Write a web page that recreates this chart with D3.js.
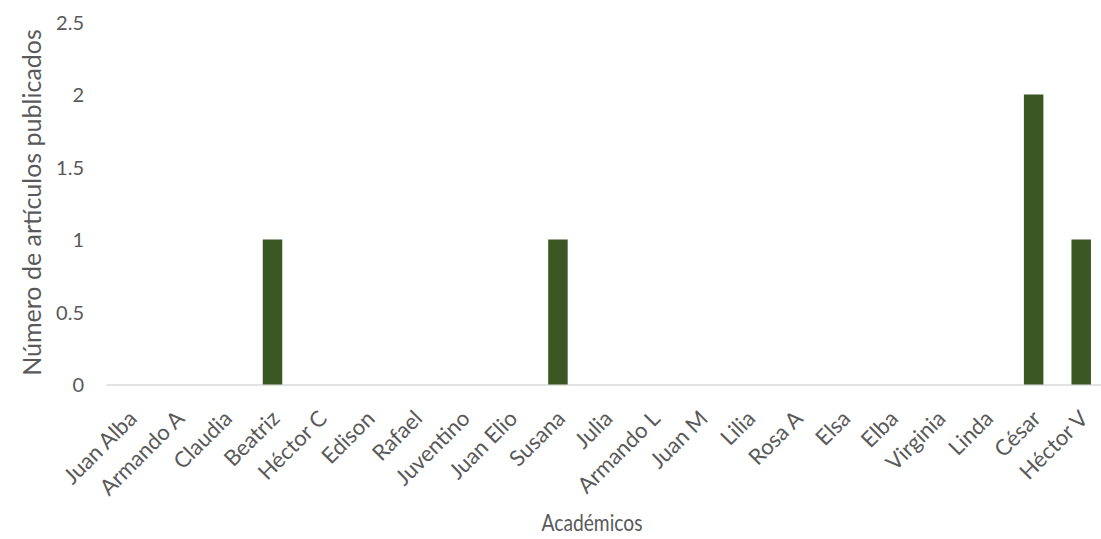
<!DOCTYPE html>
<html><head><meta charset="utf-8">
<script src="https://cdn.jsdelivr.net/npm/d3@7"></script>
<style>body{margin:0;background:#fff;} svg{display:block;} text{font-family:Lato, "Open Sans", sans-serif;fill:#595959;}</style>
</head><body>
<svg id="c" width="1101" height="539"></svg>
<script>
const categories = ["Juan Alba","Armando A","Claudia","Beatriz","Héctor C","Edison","Rafael","Juventino","Juan Elio","Susana","Julia","Armando L","Juan M","Lilia","Rosa A","Elsa","Elba","Virginia","Linda","César","Héctor V"];
const values = [0,0,0,1,0,0,0,0,0,1,0,0,0,0,0,0,0,0,0,2,1];
const yTicks = [0,0.5,1,1.5,2,2.5];
const yTitle = "Número de artículos publicados";
const xTitle = "Académicos";

const svg = d3.select("#c");
const x = d3.scaleBand().domain(categories).range([106,1105]).paddingInner(0.59).paddingOuter(0.295);
const y = d3.scaleLinear().domain([0,2.5]).range([384.5,22]);

// x axis line
const xa = svg.append("g").attr("transform",`translate(0,${y(0)})`)
  .call(d3.axisBottom(x).tickSize(0).tickPadding(0));
xa.select(".domain").attr("stroke","#d9d9d9").attr("stroke-width",1.5);
xa.selectAll("text").attr("font-size",22).attr("fill","#595959")
  .attr("text-anchor","end").attr("y",null)
  .attr("transform","translate(3,30) rotate(-45)").attr("dy","0.35em");

svg.append("g").selectAll("rect").data(values).join("rect")
  .attr("x",(d,i)=>x(categories[i])).attr("width",x.bandwidth())
  .attr("y",d=>y(d)).attr("height",d=>y(0)-y(d))
  .attr("fill","#3a5724");

// y axis labels
const ya = svg.append("g").attr("transform","translate(84,0)")
  .call(d3.axisLeft(y).tickValues(yTicks).tickSize(0).tickPadding(0).tickFormat(d=>String(d)));
ya.select(".domain").remove();
ya.selectAll("text").attr("font-size",20).attr("fill","#595959").attr("dy","0.36em");

svg.append("text").attr("transform","translate(41,202.5) rotate(-90)")
  .attr("text-anchor","middle").attr("font-size",25).text(yTitle);
svg.append("text").attr("x",592).attr("y",531).attr("text-anchor","middle")
  .attr("font-size",23).attr("textLength",101).attr("lengthAdjust","spacingAndGlyphs").text(xTitle);
</script>
</body></html>
